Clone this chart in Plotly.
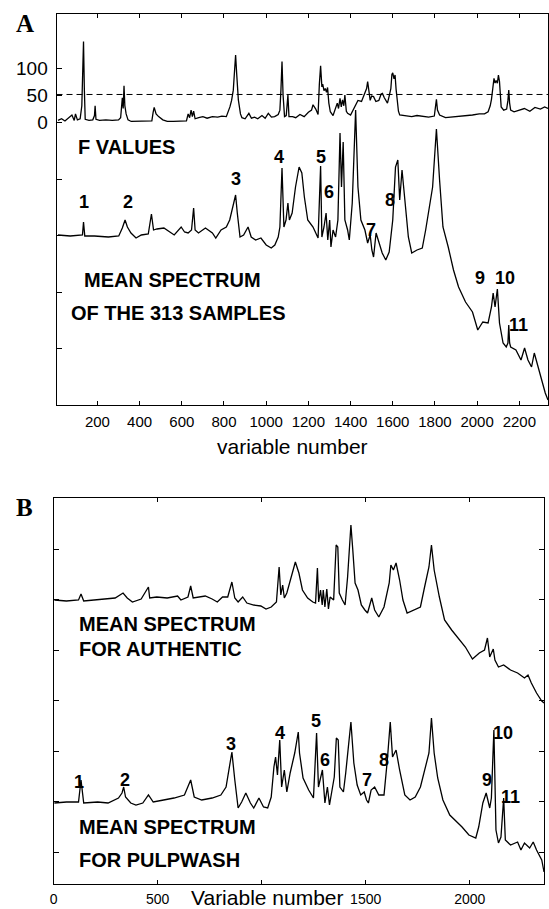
import plotly.graph_objects as go

W, H = 549, 909

# ---------------- Panel A: F values ----------------
f_var = [13, 30, 46, 62, 79, 90, 96, 105, 118, 126, 130, 134, 138, 142, 160, 178, 186, 189, 193, 210,
         240, 270, 300, 310, 318, 322, 326, 330, 336, 345, 360, 400, 440, 458, 464, 469, 478, 490, 510, 531,
         560, 600, 622, 630, 637, 644, 650, 656, 663, 680, 700, 720, 745, 770, 790, 811, 820, 828, 836, 844,
         850, 855, 860, 868, 878, 885, 900, 918, 930, 945, 960, 980, 995, 1010, 1025, 1040, 1057, 1065, 1070, 1075,
         1080, 1087, 1095, 1100, 1103, 1108, 1125, 1140, 1160, 1180, 1200, 1215, 1222, 1235, 1246, 1252, 1258, 1264, 1268, 1274,
         1280, 1286, 1291, 1297, 1304, 1317, 1330, 1337, 1343, 1350, 1356, 1362, 1368, 1373, 1380, 1386, 1400, 1410, 1420, 1435,
         1452, 1462, 1470, 1476, 1481, 1488, 1493, 1500, 1509, 1520, 1534, 1545, 1551, 1560, 1575, 1583, 1591, 1596, 1600, 1606,
         1611, 1616, 1621, 1627, 1633, 1660, 1690, 1715, 1745, 1770, 1797, 1802, 1807, 1812, 1822, 1850, 1880, 1910, 1940, 1978,
         2010, 2035, 2052, 2062, 2068, 2074, 2080, 2085, 2090, 2096, 2101, 2106, 2110, 2114, 2126, 2140, 2146, 2150, 2154, 2159,
         2175, 2200, 2224, 2250, 2274, 2300, 2320, 2336]
f_val = [3, 6, 2, 8, 13, 3, 15, 4, 6, 30, 95, 149, 60, 5, 3, 4, 12, 30, 5, 3,
         4, 3, 4, 8, 45, 25, 67, 30, 15, 4, 1, 1, 1, 2, 18, 27, 15, 10, 4, 1,
         1, 1, 2, 15, 8, 22, 10, 20, 6, 8, 10, 7, 10, 9, 11, 10, 18, 28, 40, 59,
         95, 124, 90, 41, 15, 8, 6, 16, 7, 9, 6, 12, 7, 16, 9, 10, 14, 22, 60, 112,
         50, 10, 12, 35, 50, 10, 10, 8, 14, 10, 18, 22, 32, 24, 14, 70, 104, 65, 70, 58,
         62, 55, 64, 35, 19, 12, 25, 35, 25, 44, 28, 41, 30, 50, 20, 16, 13, 20, 28, 40,
         38, 48, 55, 62, 75, 55, 40, 48, 47, 38, 40, 52, 53, 45, 35, 48, 62, 88, 91, 80,
         87, 60, 34, 20, 13, 12, 10, 12, 10, 9, 11, 25, 42, 22, 13, 8, 9, 10, 12, 13,
         15, 15, 19, 30, 42, 60, 81, 72, 77, 72, 87, 75, 50, 28, 22, 24, 40, 59, 35, 22,
         19, 22, 25, 20, 27, 24, 28, 25]
F_THRESHOLD = 51

# ---------------- Panel A: mean spectrum of the 313 samples ----------------
ma_var = [13, 71, 129, 134, 140, 186, 252, 301, 318, 331, 342, 359, 383, 408, 441, 456, 466, 482, 515, 548,
          564, 597, 613, 630, 646, 656, 663, 679, 712, 745, 761, 786, 811, 827, 843, 855, 863, 876, 893, 914,
          929, 950, 975, 1000, 1024, 1041, 1057, 1065, 1075, 1084, 1094, 1103, 1110, 1123, 1139, 1156, 1169, 1181, 1197, 1222,
          1246, 1258, 1264, 1274, 1284, 1292, 1301, 1307, 1317, 1329, 1340, 1350, 1357, 1365, 1373, 1386, 1394, 1408, 1424, 1435,
          1449, 1468, 1481, 1493, 1501, 1509, 1521, 1534, 1550, 1567, 1583, 1600, 1613, 1624, 1633, 1644, 1657, 1674, 1690, 1715,
          1740, 1756, 1789, 1807, 1822, 1838, 1863, 1888, 1912, 1945, 1978, 2003, 2027, 2052, 2068, 2076, 2085, 2096, 2106, 2113,
          2123, 2138, 2146, 2150, 2154, 2159, 2184, 2208, 2225, 2241, 2258, 2271, 2290, 2307, 2323, 2336]
ma_val = [170, 169, 170, 183, 169, 169, 168, 169, 177, 185, 178, 172, 167, 170, 171, 191, 175, 176, 177, 172,
          170, 178, 173, 172, 175, 197, 175, 172, 177, 172, 167, 175, 178, 185, 198, 210, 192, 168, 170, 178,
          168, 165, 167, 160, 157, 160, 168, 178, 237, 178, 185, 202, 185, 192, 218, 238, 232, 208, 185, 178,
          167, 239, 168, 178, 192, 165, 185, 158, 175, 168, 185, 272, 218, 263, 185, 175, 165, 202, 295, 218,
          185, 175, 162, 170, 155, 148, 172, 162, 152, 145, 153, 185, 238, 245, 205, 235, 202, 168, 152, 155,
          157, 175, 218, 276, 225, 178, 158, 135, 118, 103, 93, 75, 83, 82, 98, 112, 98, 116, 82, 72,
          62, 58, 62, 80, 62, 58, 55, 45, 57, 45, 38, 52, 37, 22, 12, 5]

a_peak_lbl = ["1", "2", "3", "4", "5", "6", "7", "8", "9", "10", "11"]
a_peak_var = [137, 347, 855, 1062, 1258, 1297, 1498, 1587, 2016, 2131, 2197]
a_peak_val = [203, 203, 226, 248, 248, 213, 175, 205, 127, 127, 80]

# ---------------- Panel B: mean spectra for authentic and pulpwash ----------------
au_var = [4, 62, 120, 132, 145, 196, 262, 296, 334, 354, 379, 421, 456, 462, 496, 546, 596, 612, 646, 659,
          671, 696, 729, 762, 787, 812, 837, 857, 871, 887, 909, 929, 962, 996, 1021, 1046, 1071, 1084, 1092, 1101,
          1109, 1121, 1137, 1162, 1179, 1196, 1221, 1246, 1259, 1268, 1274, 1283, 1291, 1296, 1304, 1313, 1321, 1329, 1346, 1358,
          1366, 1373, 1388, 1401, 1413, 1429, 1438, 1449, 1463, 1479, 1496, 1509, 1529, 1543, 1563, 1588, 1613, 1621, 1633, 1646,
          1663, 1679, 1699, 1729, 1763, 1783, 1804, 1816, 1829, 1854, 1879, 1913, 1946, 1979, 2013, 2046, 2071, 2085, 2096, 2113,
          2121, 2138, 2163, 2196, 2230, 2263, 2280, 2296, 2321, 2346, 2357]
au_val = [284, 283, 284, 290, 283, 284, 285, 286, 291, 286, 282, 285, 297, 286, 287, 286, 288, 284, 287, 298,
          286, 287, 288, 285, 282, 287, 287, 302, 286, 282, 287, 281, 279, 278, 275, 277, 282, 317, 289, 299,
          286, 291, 304, 322, 311, 294, 286, 282, 281, 316, 282, 294, 279, 294, 277, 295, 275, 287, 284, 339,
          337, 291, 284, 279, 307, 359, 334, 301, 294, 279, 274, 271, 286, 274, 267, 277, 301, 319, 314, 321,
          304, 284, 271, 274, 277, 297, 317, 339, 314, 287, 264, 254, 246, 237, 225, 231, 234, 246, 227, 235,
          224, 217, 219, 214, 211, 206, 209, 201, 191, 183, 181]

pw_var = [4, 62, 120, 132, 145, 212, 262, 312, 329, 337, 346, 371, 396, 429, 456, 479, 529, 579, 629, 659,
          676, 712, 762, 804, 829, 857, 871, 887, 904, 924, 946, 962, 987, 1009, 1029, 1046, 1059, 1067, 1076, 1087,
          1096, 1109, 1121, 1137, 1159, 1176, 1182, 1199, 1226, 1249, 1264, 1273, 1283, 1292, 1304, 1316, 1326, 1338, 1349, 1359,
          1368, 1376, 1393, 1404, 1429, 1443, 1459, 1476, 1493, 1504, 1513, 1526, 1543, 1563, 1588, 1604, 1618, 1629, 1646, 1663,
          1688, 1713, 1738, 1763, 1788, 1804, 1816, 1829, 1846, 1871, 1904, 1929, 1963, 1996, 2029, 2043, 2063, 2079, 2096, 2104,
          2116, 2126, 2138, 2150, 2163, 2171, 2196, 2230, 2246, 2263, 2288, 2305, 2321, 2346, 2357]
pw_val = [81, 82, 82, 104, 81, 82, 81, 86, 91, 97, 87, 81, 79, 81, 89, 82, 84, 86, 89, 104,
          87, 84, 86, 89, 97, 132, 104, 76, 82, 91, 81, 76, 86, 77, 76, 87, 117, 127, 109, 144,
          97, 114, 92, 111, 131, 152, 131, 106, 94, 86, 151, 97, 106, 114, 81, 97, 79, 92, 107, 146,
          144, 97, 92, 111, 162, 121, 99, 89, 92, 84, 81, 94, 97, 89, 89, 124, 162, 127, 134, 114,
          89, 84, 87, 97, 117, 131, 166, 131, 106, 84, 69, 64, 57, 49, 46, 57, 81, 91, 76, 86,
          154, 54, 41, 47, 86, 44, 39, 42, 34, 41, 36, 42, 34, 24, 12]

b_peak_lbl = ["1", "2", "3", "4", "5", "6", "7", "8", "9", "10", "11"]
b_peak_var = [124, 345, 852, 1086, 1262, 1305, 1505, 1586, 2081, 2162, 2195]
b_peak_val = [102, 104, 140, 151, 163, 124, 104, 124, 104, 151, 87]

a_xticks = [200, 400, 600, 800, 1000, 1200, 1400, 1600, 1800, 2000, 2200]
b_xticks = [0, 500, 1000, 1500, 2000]
b_xticktext = ["0", "500", "", "1500", "2000"]

# ---------------- figure ----------------
FONT = "Liberation Sans, Arial, sans-serif"
SERIF = "Liberation Serif, Times New Roman, serif"


def px(x):
    return x / W


def py(y):
    return 1 - y / H


fig = go.Figure()
line_style = dict(color="black", width=1.3)
fig.add_trace(go.Scatter(x=f_var, y=f_val, mode="lines", line=line_style, xaxis="x", yaxis="y",
                         showlegend=False, hoverinfo="skip"))
fig.add_trace(go.Scatter(x=ma_var, y=ma_val, mode="lines", line=line_style, xaxis="x", yaxis="y3",
                         showlegend=False, hoverinfo="skip"))
fig.add_trace(go.Scatter(x=au_var, y=au_val, mode="lines", line=line_style, xaxis="x2", yaxis="y2",
                         showlegend=False, hoverinfo="skip"))
fig.add_trace(go.Scatter(x=pw_var, y=pw_val, mode="lines", line=line_style, xaxis="x2", yaxis="y2",
                         showlegend=False, hoverinfo="skip"))

ax_common = dict(showgrid=False, zeroline=False, showline=True, linecolor="black", linewidth=1,
                 ticks="inside", tickcolor="black", tickwidth=1)

A_dom_x = [px(53), 1.0]
A_dom_y = [py(405), py(14)]
B_dom_x = [px(50), px(545)]
B_dom_y = [py(884), py(498)]

fig.update_layout(
    width=W, height=H, margin=dict(l=0, r=0, t=0, b=0),
    paper_bgcolor="white", plot_bgcolor="white",
    font=dict(family=FONT, color="black"),
    xaxis=dict(**ax_common, domain=A_dom_x, anchor="y", range=[6, 2336], tickvals=a_xticks,
               ticklen=4, mirror="ticks", tickfont=dict(size=15), ticklabelstandoff=3),
    yaxis=dict(**ax_common, domain=A_dom_y, anchor="x", range=[-524, 200], tickvals=[0, 50, 100],
               ticklen=5, mirror=True, tickfont=dict(size=19), ticklabelstandoff=4),
    yaxis3=dict(showgrid=False, zeroline=False, showline=False, overlaying="y", anchor="x", side="left",
                range=[0, 391], tickvals=[57, 113, 170, 226], ticks="inside", ticklen=5,
                tickcolor="black", showticklabels=False),
    xaxis2=dict(**ax_common, domain=B_dom_x, anchor="y2", range=[0, 2357], tickvals=b_xticks,
                ticktext=b_xticktext, ticklen=4, mirror="ticks", tickfont=dict(size=14), ticklabelstandoff=2),
    yaxis2=dict(**ax_common, domain=B_dom_y, anchor="x2", range=[0, 386],
                tickvals=[32, 82.5, 133, 183.5, 234, 284.5, 335], ticklen=5, mirror="ticks",
                showticklabels=False),
)

# threshold line on F values
fig.add_shape(type="line", xref="x domain", yref="y", x0=0, x1=1, y0=F_THRESHOLD, y1=F_THRESHOLD,
              line=dict(color="black", width=1, dash="6px,4px"))

ann = []
# panel letters
ann.append(dict(text="<b>A</b>", x=px(10), y=py(23), xanchor="left", yanchor="middle",
                font=dict(family=SERIF, size=25)))
ann.append(dict(text="<b>B</b>", x=px(10), y=py(508), xanchor="left", yanchor="middle",
                font=dict(family=SERIF, size=25)))
# panel text
big = dict(family=FONT, size=20)
for t, xx, yy in [("F VALUES", 73, 147), ("MEAN SPECTRUM", 79, 280), ("OF THE 313 SAMPLES", 66, 313),
                  ("MEAN SPECTRUM", 74, 624), ("FOR AUTHENTIC", 74, 649),
                  ("MEAN SPECTRUM", 74, 827), ("FOR PULPWASH", 74, 860)]:
    ann.append(dict(text="<b>" + t + "</b>", x=px(xx), y=py(yy), xanchor="left", yanchor="middle",
                    font=big))
# axis titles
ann.append(dict(text="variable number", x=px(291), y=py(446), xanchor="center", yanchor="middle",
                font=dict(family=FONT, size=21)))
ann.append(dict(text="Variable number", x=px(266), y=py(897), xanchor="center", yanchor="middle",
                font=dict(family=FONT, size=21)))
for a in ann:
    a.update(xref="paper", yref="paper", showarrow=False)
    fig.add_annotation(**a)

num_font = dict(family=FONT, size=18)
for lbl, xv, yv in zip(a_peak_lbl, a_peak_var, a_peak_val):
    fig.add_annotation(text="<b>" + lbl + "</b>", x=xv, y=yv, xref="x", yref="y3", showarrow=False,
                       xanchor="center", yanchor="middle", font=num_font)
for lbl, xv, yv in zip(b_peak_lbl, b_peak_var, b_peak_val):
    fig.add_annotation(text="<b>" + lbl + "</b>", x=xv, y=yv, xref="x2", yref="y2", showarrow=False,
                       xanchor="center", yanchor="middle", font=num_font)

fig.write_html("out.html")
